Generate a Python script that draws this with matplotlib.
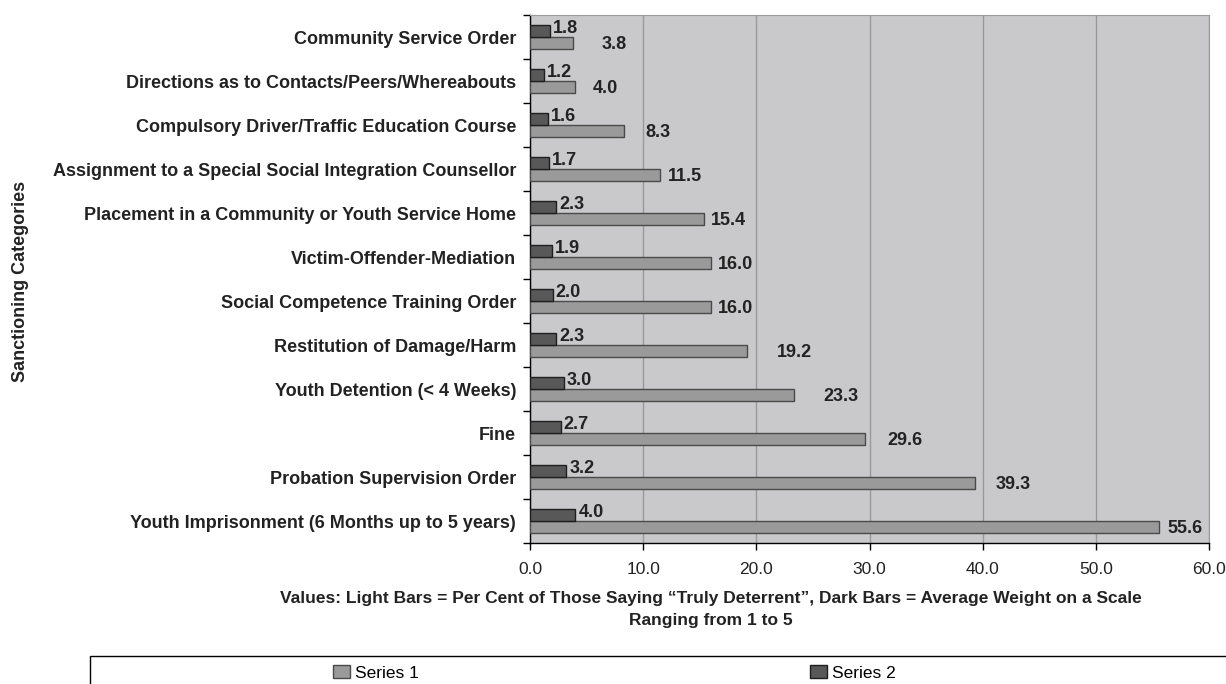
import matplotlib
matplotlib.use('Agg')
import matplotlib.pyplot as plt
from matplotlib.patches import Rectangle
import numpy as np

plt.rcParams['font.family'] = ['Liberation Sans', 'DejaVu Sans']

# sanctions, top to bottom
categories = ['Community Service Order',
              'Directions as to Contacts/Peers/Whereabouts',
              'Compulsory Driver/Traffic Education Course',
              'Assignment to a Special Social Integration Counsellor',
              'Placement in a Community or Youth Service Home',
              'Victim-Offender-Mediation',
              'Social Competence Training Order',
              'Restitution of Damage/Harm',
              'Youth Detention (< 4 Weeks)',
              'Fine',
              'Probation Supervision Order',
              'Youth Imprisonment (6 Months up to 5 years)']
series1 = [3.8, 4.0, 8.3, 11.5, 15.4, 16.0, 16.0, 19.2, 23.3, 29.6, 39.3, 55.6]  # light bars, per cent
series2 = [1.8, 1.2, 1.6, 1.7, 2.3, 1.9, 2.0, 2.3, 3.0, 2.7, 3.2, 4.0]  # dark bars, weight 1-5
xticks = [0, 10, 20, 30, 40, 50, 60]

# label nudges (pixels) for the light-bar values
light_gap = [29, 17, 21, 8, 7, 7, 7, 30, 30, 22, 21, 8]

fig = plt.figure(figsize=(12.26, 6.84), dpi=100)
ax = fig.add_axes([530/1226, 1 - 543/684, 679/1226, 528/684])
ax.set_facecolor('#c9c9cb')

y = np.arange(len(categories))
h = 0.27
b1 = ax.barh(y + h/2, series1, height=h, color='#9a9a9a', edgecolor='#4a4a4a', lw=1.0, label='Series 1', zorder=3)
b2 = ax.barh(y - h/2, series2, height=h, color='#585858', edgecolor='#1e1e1e', lw=1.0, label='Series 2', zorder=3)

for i in range(len(categories)):
    ax.annotate('%.1f' % series2[i], (series2[i], y[i] - h/2), xytext=(3, 3),
                textcoords='offset pixels', va='center', ha='left',
                fontsize=13, fontweight='bold', color='#222222', zorder=4)
    ax.annotate('%.1f' % series1[i], (series1[i], y[i] + h/2), xytext=(light_gap[i], -2),
                textcoords='offset pixels', va='center', ha='left',
                fontsize=13, fontweight='bold', color='#222222', zorder=4)

ax.set_xlim(0, 60)
ax.set_ylim(len(categories) - 0.5, -0.5)
ax.set_xticks(xticks)
ax.set_xticklabels(['%.1f' % v for v in xticks], fontsize=12.5, color='#222222')
ax.tick_params(axis='x', length=5, width=1, pad=9, direction='out')
ax.xaxis.grid(True, color='#999999', lw=1.0, zorder=1)
ax.set_axisbelow(True)

# category names centred in each band, tick marks on the band edges
ax.set_yticks(y)
ax.set_yticklabels(categories, fontsize=13, fontweight='bold', color='#222222')
ax.tick_params(axis='y', length=0, pad=10)
ax.set_yticks(np.arange(len(categories) + 1) - 0.5, minor=True)
ax.tick_params(axis='y', which='minor', length=5, width=1, direction='out')

for s in ['top', 'right']:
    ax.spines[s].set_color('#9a9a9a')
for s in ['left', 'bottom']:
    ax.spines[s].set_color('black')
    ax.spines[s].set_linewidth(1.0)

fig.text(21/1226, 1 - 281/684, 'Sanctioning Categories', rotation=90, ha='center', va='center',
         fontsize=13, fontweight='bold', color='#222222')
fig.text(711/1226, 1 - 599/684,
         'Values: Light Bars = Per Cent of Those Saying \u201cTruly Deterrent\u201d, Dark Bars = Average Weight on a Scale',
         ha='center', va='center', fontsize=12.5, fontweight='bold', color='#222222')
fig.text(711/1226, 1 - 621/684, 'Ranging from 1 to 5',
         ha='center', va='center', fontsize=12.5, fontweight='bold', color='#222222')

# legend box runs off the bottom right corner
fig.add_artist(Rectangle((90/1226, -0.2), 1.0, 0.2 + 1 - 656/684, transform=fig.transFigure,
                         fill=False, edgecolor='black', lw=1.0))
fig.legend(handles=[b1, b2], labels=['Series 1', 'Series 2'], ncol=2, frameon=False,
           loc='center left', bbox_to_anchor=(333/1226, 1 - 673/684), borderpad=0, borderaxespad=0,
           handlelength=0.98, handleheight=0.75, handletextpad=0.3, columnspacing=22.5, fontsize=12.5)

plt.savefig('out.png', dpi=100)
